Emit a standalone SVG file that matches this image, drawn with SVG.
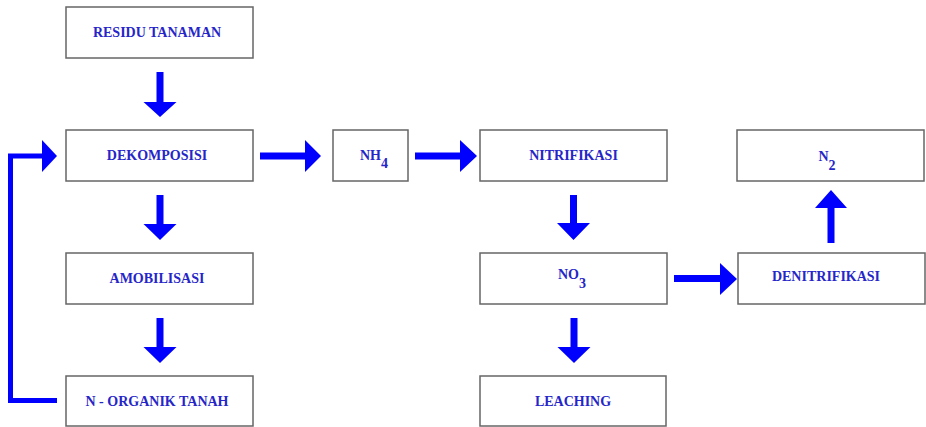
<svg xmlns="http://www.w3.org/2000/svg" width="926" height="427" viewBox="0 0 926 427">
  <style>
    .box rect { fill: #ffffff; stroke: #666666; stroke-width: 1.5; }
    .box text { font-family: "Liberation Serif", "Times New Roman", serif; font-weight: bold; font-size: 14px; fill: #2626c8; text-anchor: middle; }
    .arrow { fill: #0000ff; stroke: none; }
    .line { fill: none; stroke: #0000ff; stroke-width: 5; }
  </style>
  <rect width="926" height="427" fill="#ffffff"/>

  <g id="connectors">
    <!-- RESIDU TANAMAN -> DEKOMPOSISI -->
    <polygon class="arrow" points="156.5,72 163.5,72 163.5,102 176.5,102 160,117 143.5,102 156.5,102"/>
    <!-- DEKOMPOSISI -> AMOBILISASI -->
    <polygon class="arrow" points="156.5,195 163.5,195 163.5,224 176.5,224 160,240 143.5,224 156.5,224"/>
    <!-- AMOBILISASI -> N - ORGANIK TANAH -->
    <polygon class="arrow" points="156.5,318 163.5,318 163.5,347 176.5,347 160,363 143.5,347 156.5,347"/>
    <!-- feedback: N - ORGANIK TANAH -> DEKOMPOSISI -->
    <polyline class="line" points="57,400.5 10.5,400.5 10.5,156 43,156"/>
    <polygon class="arrow" points="42,140 57,156 42,172"/>
    <!-- DEKOMPOSISI -> NH4 -->
    <polygon class="arrow" points="260,152.5 305,152.5 305,140 321,156 305,172 305,159.5 260,159.5"/>
    <!-- NH4 -> NITRIFIKASI -->
    <polygon class="arrow" points="415,152.5 460,152.5 460,140 477,156 460,172 460,159.5 415,159.5"/>
    <!-- NITRIFIKASI -> NO3 -->
    <polygon class="arrow" points="570,195 577,195 577,223 590,223 573.5,240 557,223 570,223"/>
    <!-- NO3 -> LEACHING -->
    <polygon class="arrow" points="570.5,318 577.5,318 577.5,347 590.5,347 574,363 557.5,347 570.5,347"/>
    <!-- NO3 -> DENITRIFIKASI -->
    <polygon class="arrow" points="674,275 720,275 720,263 737,279 720,295 720,282 674,282"/>
    <!-- DENITRIFIKASI -> N2 -->
    <polygon class="arrow" points="827.5,243 834.5,243 834.5,208 847,208 831,190 815,208 827.5,208"/>
  </g>

  <g id="residu" class="box">
    <rect x="66" y="7" width="187" height="51"/>
    <text x="157" y="37">RESIDU TANAMAN</text>
  </g>
  <g id="dekomposisi" class="box">
    <rect x="66" y="130" width="187" height="51"/>
    <text x="157" y="160">DEKOMPOSISI</text>
  </g>
  <g id="amobilisasi" class="box">
    <rect x="66" y="253" width="187" height="51"/>
    <text x="157" y="282.5">AMOBILISASI</text>
  </g>
  <g id="n-organik" class="box">
    <rect x="66" y="376" width="187" height="50"/>
    <text x="157" y="406">N - ORGANIK TANAH</text>
  </g>
  <g id="nh4" class="box">
    <rect x="333" y="130" width="75" height="51"/>
    <text x="374" y="159.5">NH<tspan dy="8.5">4</tspan></text>
  </g>
  <g id="nitrifikasi" class="box">
    <rect x="480" y="130" width="187" height="51"/>
    <text x="573.5" y="160">NITRIFIKASI</text>
  </g>
  <g id="no3" class="box">
    <rect x="480" y="253" width="187" height="51"/>
    <text x="572" y="278.5">NO<tspan dy="9">3</tspan></text>
  </g>
  <g id="leaching" class="box">
    <rect x="480" y="376" width="186" height="50"/>
    <text x="573" y="406">LEACHING</text>
  </g>
  <g id="n2" class="box">
    <rect x="737" y="130" width="187" height="51"/>
    <text x="827" y="161">N<tspan dy="8.5">2</tspan></text>
  </g>
  <g id="denitrifikasi" class="box">
    <rect x="738" y="253" width="187" height="51"/>
    <text x="826" y="281">DENITRIFIKASI</text>
  </g>
</svg>
